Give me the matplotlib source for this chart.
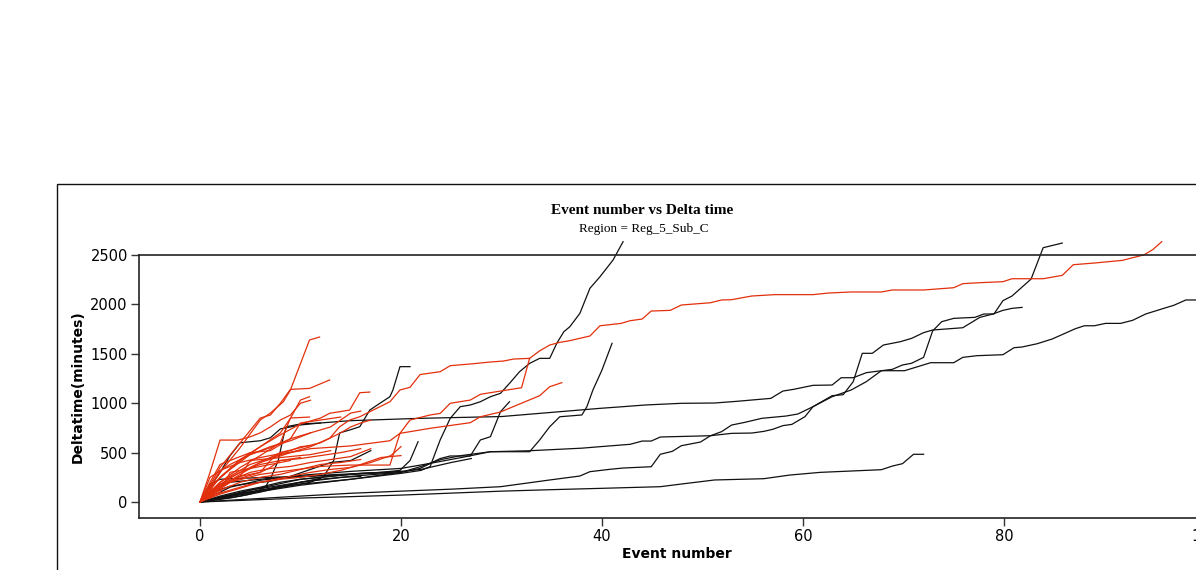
import matplotlib
matplotlib.use('Agg')
import matplotlib.pyplot as plt
from matplotlib.patches import Rectangle

# long black series (event number, delta time in minutes)
b1 = [(0,0),(5,90),(10,170),(15,230),(20,290),(22,320),(22.9,358),(23.9,628),(24.9,847),(25.9,965),
      (26.9,982),(27.9,1015),(28.9,1066),(29.9,1100),(30.8,1201),(31.8,1319),(32.8,1403),(33.8,1454),
      (34.8,1454),(35.5,1606),(36.2,1723),(36.8,1774),(37.8,1909),(38.8,2163),(39.8,2280),(41.1,2449),(42.1,2635)]
b2 = [(0,0),(5,120),(10,200),(15,260),(20,300),(21.9,340),(23.9,440),(24.9,466),(26.9,466),(27.9,628),
      (28.9,661),(29.9,914),(30.8,1015)]
b3 = [(0,0),(5,100),(10,180),(15,230),(20,300),(21.9,357),(24,430),(26,470),(28.9,509),(32.8,509),
      (33.8,628),(34.8,762),(35.8,863),(38,881),(38.5,965),(39.1,1134),(40,1336),(41,1606)]
b4 = [(0,0),(1,150),(2,300),(3,470),(4,600),(6,620),(7,650),(8,740),(10,780),(12,800),(14.9,823),
      (21.9,847),(30,865),(39.8,948),(42.1,965),(44.3,982),(47.9,999),(51.2,1002),(53.4,1019),(56.8,1049),
      (58,1123),(59.1,1141),(61,1181),(62.9,1184),(63.8,1258),(65,1258),(66.3,1309),(67.8,1329),(70.1,1329),
      (71.2,1363),(72.7,1410),(75,1410),(75.9,1464),(77.3,1481),(79.9,1491),(81,1562),(81.8,1569),
      (83.3,1602),(84.8,1650),(87.1,1754),(88,1784),(89,1784),(90.1,1808),(91.6,1808),(92.8,1839),
      (94.1,1903),(95.8,1957),(96.9,1991),(98.1,2045),(102,2045)]
b5 = [(0,0),(3,150),(6,220),(10,270),(15,310),(20,340),(22.9,391),(26,450),(28.9,509),(32.8,519),
      (38,545),(39.8,560),(42.8,584),(44,617),(44.9,617),(45.8,658),(50.8,671),(52.9,695),(54.9,698),
      (56.1,715),(57,736),(58,773),(58.9,786),(60.2,864),(61,965),(62.9,1076),(64,1086),(65,1218),
      (65.9,1505),(66.9,1505),(68,1589),(69.7,1623),(70.8,1656),(72,1714),(72.9,1741),(75.9,1764),
      (77.6,1869),(78.9,1903),(79.9,1940),(80.8,1960),(81.8,1970)]
b6 = [(0,0),(5,30),(10,60),(14.9,88),(20,110),(25,130),(29.9,155),(34.8,223),(37.8,263),(38.8,307),
      (40.8,331),(42.1,344),(44.9,357),(45.8,483),(47,513),(47.9,570),(49.8,607),(50.8,671),(51.9,712),
      (52.9,779),(54.2,806),(55.9,847),(58.3,870),(59.5,891),(61,965),(62.9,1066),(64.8,1134),(66.3,1218),
      (67.8,1329),(68.9,1343),(69.9,1387),(70.8,1404),(72,1464),(72.9,1731),(73.8,1825),(75,1859),
      (77.1,1869),(78,1903),(79,1903),(79.9,2038),(80.8,2085),(82.7,2257),(83.9,2574),(85.8,2621)]
b7 = [(0,0),(5,20),(10,40),(14.9,54),(20,70),(25,90),(30,110),(35,125),(39.8,138),(45.8,155),(47.9,182),
      (51.2,223),(56.1,236),(58.7,273),(61.7,300),(67.8,327),(68.9,364),(69.9,388),(71,483),(72,483)]
b8 = [(0,0),(4,80),(8,150),(11,200),(12.3,256),(13.3,420),(13.9,700),(14.9,729),(15.9,762),(16.9,931),
      (17.9,999),(18.9,1066),(19.2,1134),(19.9,1370),(20.9,1370)]
b9 = [(0,0),(5,120),(10,230),(15,280),(18,300),(19.9,320),(20.9,420),(21.7,610)]
b11 = [(0,0),(3,40),(5,80),(6.5,150),(7.1,256),(7.8,425),(8.3,660),(8.6,762),(10,790),(12,800)]
b12 = [(0,0),(1,180),(2,230),(4,240),(7,250),(10,260),(13,275),(16,290),(19,300),(22,330),(25,400),(27,440)]
b13 = [(0,0),(2,60),(4,110),(6,150),(8,200),(10,230),(12,250),(14,270),(16,290),(18,300),(20,310)]
b14 = [(0,0),(1,90),(3,160),(5,190),(7,210),(9,260),(11,330),(13,400),(15,420),(17,520)]
b15 = [(0,0),(2,50),(4,90),(6,120),(8,160),(10,200),(12,230),(14,250),(16,260)]
b16 = [(0,0),(1,100),(2,170),(3,200),(5,220),(7,240),(9,250),(11,260),(13,270),(15,280),(17,290),(19,300)]
b17 = [(0,0),(2,30),(4,60),(6,100),(8,150),(10,200),(12,240)]

# red series
rl = [(0,0),(3,250),(6,400),(9,500),(11,560),(12.9,645),(13.9,762),(14.9,830),(15.9,863),(16.9,914),
      (18.9,1015),(19.9,1134),(20.9,1161),(21.9,1290),(23.9,1319),(24.9,1380),(26.9,1397),(28.9,1417),
      (30.2,1427),(31.2,1447),(32.8,1454),(33.8,1530),(34.8,1589),(35.8,1616),(36.8,1633),(37.8,1657),
      (38.8,1680),(39.8,1784),(41.9,1808),(42.8,1835),(44,1852),(44.9,1933),(46.8,1940),(47.9,1994),
      (50.8,2017),(51.9,2045),(52.9,2048),(54.9,2085),(57.2,2099),(61,2099),(62.5,2115),(64.8,2126),
      (67.8,2126),(68.9,2146),(72,2146),(75,2169),(75.9,2210),(77.6,2220),(79.9,2230),(80.8,2260),
      (83.9,2260),(85.8,2294),(86.9,2402),(89,2419),(91.8,2446),(92.8,2473),(93.9,2500),(94.8,2554),(95.7,2635)]
r1 = [(0,0),(2,300),(4,550),(6,830),(7,900),(8.3,1015),(9,1134),(10.9,1640),(11.9,1670)]
r2 = [(0,0),(2,350),(4,600),(6,850),(7,880),(8,1000),(9,1140),(10.9,1150),(12.9,1235)]
r3 = [(0,0),(2,250),(4,420),(6,560),(8,700),(9,847),(10,1032),(10.9,1066)]
r4 = [(0,0),(2,200),(4,350),(6,470),(8,600),(9,850),(10.9,860)]
r5 = [(0,0),(2,250),(4,430),(6,560),(8,680),(10,790),(12,850),(12.9,898),(13.9,914),(14.9,931),
      (15.9,1106),(16.9,1113)]
r6 = [(0,0),(2,200),(5,380),(8,480),(11,540),(14.9,567),(18.9,620),(19.9,695),(22.9,746),(26.9,803),
      (27.9,863),(29.9,911),(31.8,992),(33.8,1076),(34.8,1167),(36,1208)]
r7 = [(0,0),(3,200),(6,280),(9,320),(12,360),(14.9,374),(18.9,374),(19.9,695),(20.9,830),(22.9,881),
      (23.9,897),(24.9,999),(26.9,1032),(27.9,1090),(29.9,1123),(32,1157),(32.8,1454)]
ra = [(0,0),(1,300),(2,627),(3.8,627),(5,660),(6,700),(7,760),(8,830),(9,880),(10,1000),(11,1030)]
rd = [(0,0),(1,250),(3,380),(5,480),(7,560),(9,620),(11,700)]
re = [(0,0),(2,180),(4,300),(6,380),(8,420),(10,440),(12,470),(14,500),(16,540)]
rf = [(0,0),(1,150),(2,320),(4,400),(6,450),(8,490),(10,520)]
rg = [(0,0),(2,100),(3,300),(5,340),(7,380),(9,420)]
rh = [(0,0),(1,120),(3,220),(5,300),(7,340),(9,360),(11,400),(13,430),(15,460),(17,540)]
ri = [(0,0),(2,80),(4,140),(6,200),(8,230),(10,250),(12,280),(14,320),(16,380),(18,450),(20,470)]
rj = [(0,0),(2,140),(4,260),(5,420),(7,440),(9,460),(11,480),(13,520)]
rk = [(0,0),(1,80),(2,180),(4,260),(6,300),(7,350),(8,420),(10,450)]
rm = [(0,0),(1.5,200),(3,330),(5,480),(7,550),(9,640),(10,800),(12,830),(14,860)]
rn = [(0,0),(2,150),(4,280),(6,400),(8,500),(10,550),(12,600),(13,650),(14,700),(15,760),(16,800),(17,830)]
ro = [(0,0),(2,160),(4,240),(6,300),(7,420),(8,500),(9,520),(10,560),(11,570)]
rp = [(0,0),(1,60),(3,120),(5,180),(7,220),(9,260),(11,300),(13,330),(15,350),(17,400),(19,470),(20,560)]
rq = [(0,0),(1,200),(2,380),(3,420),(5,500),(7,520),(9,640),(11,700),(13,760),(15,900),(16,920)]
rr = [(0,0),(2,120),(4,200),(6,250),(8,280),(10,330),(12,380),(14,400),(16,430)]

black_lines = [b1, b2, b3, b4, b5, b6, b7, b8, b9, b11, b12, b13, b14, b15, b16, b17]
red_lines = [r1, r2, r3, r4, r5, r6, r7, ra, rd, re, rf, rg, rh, ri, rj, rk, rm, rn, ro, rp, rq, rr, rl]

xticks = [0, 20, 40, 60, 80, 100]
yticks = [0, 500, 1000, 1500, 2000, 2500]

fig = plt.figure(figsize=(11.96, 5.70), dpi=100)
ax = fig.add_axes([0.1162, 0.0912, 0.8997, 0.4614])

for s in black_lines:
    ax.plot([p[0] for p in s], [p[1] for p in s], color='#111111', lw=0.9, clip_on=False)
for s in red_lines:
    ax.plot([p[0] for p in s], [p[1] for p in s], color='#e2300c', lw=0.9, clip_on=False)

ax.set_xlim(-6.07, 101)
ax.set_ylim(-162, 2500)
ax.set_xticks(xticks)
ax.set_yticks(yticks)
ax.tick_params(labelsize=10.5, length=6, width=1, color='#333333', pad=2)
ax.spines['right'].set_visible(False)
for k in ['left', 'bottom', 'top']:
    ax.spines[k].set_color('#222222')
    ax.spines[k].set_linewidth(1.2)
ax.set_xlabel('Event number', fontsize=10, fontweight='bold', labelpad=2)
ax.set_ylabel('Deltatime(minutes)', fontsize=10, fontweight='bold', labelpad=4)

# outer frame
fig.patches.append(Rectangle((57/1196, -0.1), 1.2, 1.1 - 184/570, transform=fig.transFigure,
                             fill=False, edgecolor='#111111', lw=1.0))

fig.text(0.5365, 1 - 211/570, 'Event number vs Delta time', ha='center', va='center',
         family='Liberation Serif', fontweight='bold', fontsize=11)
fig.text(0.5385, 1 - 229/570, 'Region = Reg_5_Sub_C', ha='center', va='center',
         family='Liberation Serif', fontsize=9.5)

fig.savefig('out.png', dpi=100)
